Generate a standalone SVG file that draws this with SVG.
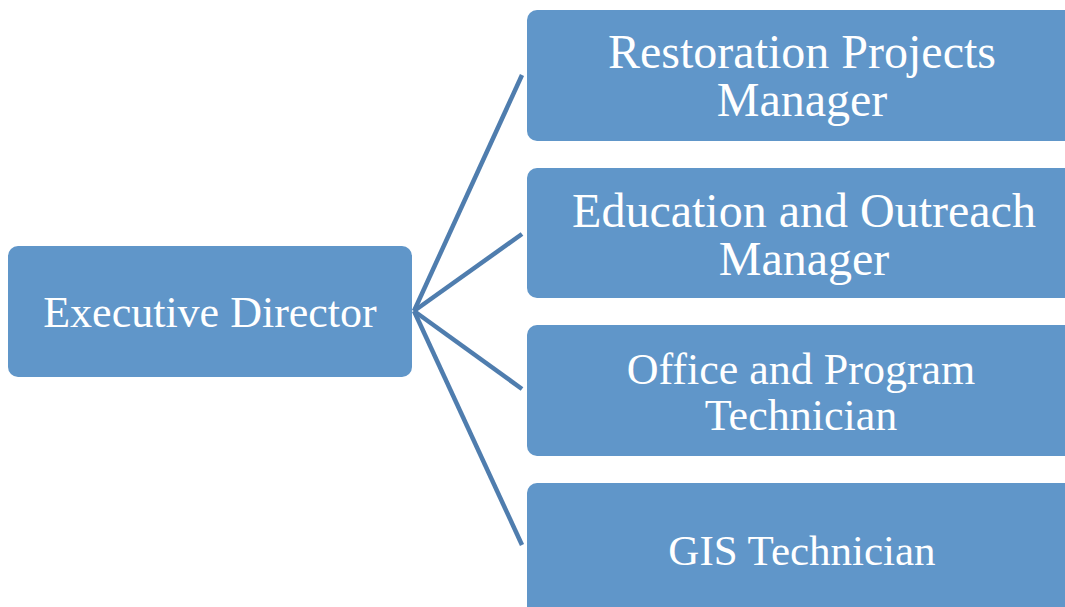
<svg xmlns="http://www.w3.org/2000/svg" width="1065" height="607" viewBox="0 0 1065 607">
<style>
.box{fill:#6096C9;}
.t{font-family:"Liberation Serif","DejaVu Serif",serif;font-size:44px;fill:#FFFFFF;text-anchor:middle;}
.big{font-size:48px;}
.c{stroke:#4F7DAE;stroke-width:4.5;fill:none;stroke-linecap:butt;}
</style>
<rect width="1065" height="607" fill="#FFFFFF"/>
<g id="connectors">
<line class="c" x1="414" y1="311" x2="522" y2="75"/>
<line class="c" x1="414" y1="311" x2="522" y2="234"/>
<line class="c" x1="414" y1="311" x2="522" y2="389"/>
<line class="c" x1="414" y1="311" x2="522" y2="545"/>
</g>
<g id="executive-director">
<rect class="box" x="8" y="246" width="404" height="131" rx="10"/>
<text class="t" x="210" y="327">Executive Director</text>
</g>
<g id="restoration-projects-manager">
<rect class="box" x="527" y="10" width="560" height="131" rx="10"/>
<text class="t big" x="802" y="68">Restoration Projects</text>
<text class="t big" x="802" y="116">Manager</text>
</g>
<g id="education-outreach-manager">
<rect class="box" x="527" y="168" width="560" height="130" rx="10"/>
<text class="t big" x="804" y="227">Education and Outreach</text>
<text class="t big" x="804" y="275">Manager</text>
</g>
<g id="office-program-technician">
<rect class="box" x="527" y="325" width="560" height="131" rx="10"/>
<text class="t" x="801" y="384">Office and Program</text>
<text class="t" x="801" y="430">Technician</text>
</g>
<g id="gis-technician">
<rect class="box" x="527" y="483" width="560" height="140" rx="10"/>
<text class="t" x="802" y="565" style="font-size:43px">GIS Technician</text>
</g>
</svg>
